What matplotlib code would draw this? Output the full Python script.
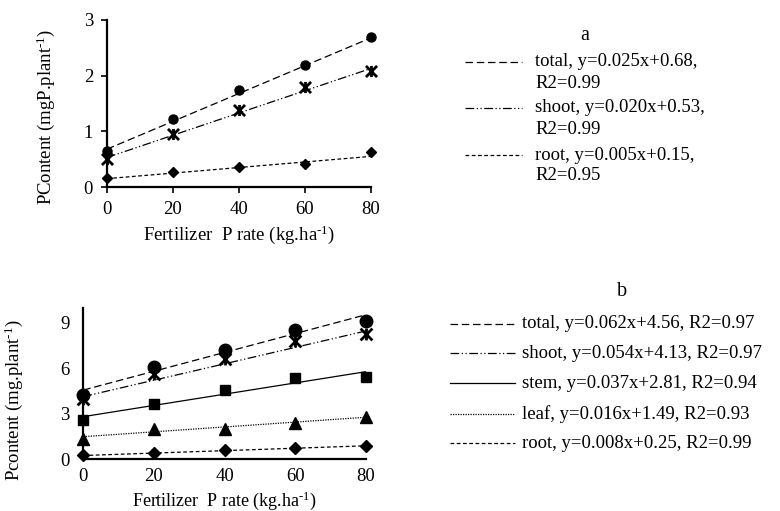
import matplotlib
matplotlib.use("Agg")
import matplotlib.pyplot as plt
import numpy as np
from matplotlib.lines import Line2D
from matplotlib.path import Path

plt.rcParams['font.family'] = ['Liberation Serif', 'DejaVu Serif']
plt.rcParams['mathtext.fontset'] = 'custom'
plt.rcParams['mathtext.rm'] = 'Liberation Serif'
plt.rcParams['mathtext.it'] = 'Liberation Serif:italic'
plt.rcParams['mathtext.bf'] = 'Liberation Serif:bold'

# ---- data: panel a ----
x_rates = [0, 20, 40, 60, 80]
a_total = [0.64, 1.22, 1.74, 2.19, 2.70]
a_shoot = [0.51, 0.95, 1.38, 1.79, 2.08]
a_root = [0.17, 0.27, 0.36, 0.42, 0.62]
a_slopes = [0.025, 0.020, 0.005]
a_intercepts = [0.68, 0.53, 0.15]
a_labels = [("total, y=0.025x+0.68,", "R2=0.99"),
            ("shoot, y=0.020x+0.53,", "R2=0.99"),
            ("root, y=0.005x+0.15,", "R2=0.95")]
a_yticks = [0, 1, 2, 3]

# ---- data: panel b ----
b_total = [4.24, 6.06, 7.20, 8.52, 9.13]
b_shoot = [4.00, 5.60, 6.59, 7.79, 8.25]
b_stem = [2.59, 3.64, 4.56, 5.38, 5.44]
b_leaf = [1.32, 1.98, 2.00, 2.41, 2.81]
b_root = [0.28, 0.44, 0.61, 0.76, 0.90]
b_slopes = [0.062, 0.054, 0.037, 0.016, 0.008]
b_intercepts = [4.56, 4.13, 2.81, 1.49, 0.25]
b_labels = ["total, y=0.062x+4.56, R2=0.97",
            "shoot, y=0.054x+4.13, R2=0.97",
            "stem, y=0.037x+2.81, R2=0.94",
            "leaf, y=0.016x+1.49, R2=0.93",
            "root, y=0.008x+0.25, R2=0.99"]
b_yticks = [0, 3, 6, 9]
x_ticks = [0, 20, 40, 60, 80]

W, H = 780, 511
fig = plt.figure(figsize=(W/100, H/100), dpi=100)

def fx(px):
    return px / W

def fy(py):
    return 1 - py / H

styles = {
    'total': dict(ls=(0, (6, 3)), lw=0.9),
    'shoot': dict(ls=(0, (7, 2, 1, 2, 1, 2)), lw=0.9),
    'stem': dict(ls='-', lw=0.9),
    'leaf': dict(ls=(0, (1, 1)), lw=0.9),
    'root': dict(ls=(0, (3, 2)), lw=0.9),
}
# asterisk marker: X plus vertical bar
star = Path([(-1, -1), (1, 1), (-1, 1), (1, -1), (0, -1), (0, 1)],
            [Path.MOVETO, Path.LINETO, Path.MOVETO, Path.LINETO, Path.MOVETO, Path.LINETO])

FS = 13.5
LFS = 13.5
xlab = "Fertilizer  P rate (kg.ha$^{\\text{-1}}$)"

# ---------- panel a ----------
axa = fig.add_axes([fx(107), fy(187), fx(371) - fx(107), fy(20) - fy(187)])
xs = np.array([0, 80])
a_series = [a_total, a_shoot, a_root]
a_keys = ['total', 'shoot', 'root']
a_markers = [dict(marker='o', ms=6.5), dict(marker=star, ms=8, mew=2.0), dict(marker='D', ms=5.5)]
for s, k, m, sl, ic in zip(a_series, a_keys, a_markers, a_slopes, a_intercepts):
    axa.plot(xs, sl * xs + ic, color='black', **styles[k])
    axa.plot(x_rates, s, ls='none', color='black', clip_on=False, **m)
axa.set_xlim(0, 80)
axa.set_ylim(0, 3)
axa.set_xticks(x_ticks)
axa.set_yticks(a_yticks)
for sp in ['top', 'right']:
    axa.spines[sp].set_visible(False)
for sp in ['left', 'bottom']:
    axa.spines[sp].set_linewidth(1.6)
axa.tick_params(direction='out', length=4, width=1.2, labelsize=FS, pad=6)
axa.set_ylabel("PContent (mgP.plant$^{\\text{-1}}$)", fontsize=FS)
axa.yaxis.set_label_coords(-0.19, 0.42)
axa.set_xlabel(xlab, fontsize=FS, labelpad=4)

# legend a
fig.text(fx(585), fy(35), "a", fontsize=LFS + 1, ha='center', va='center')
a_leg_y = [62, 108, 155]
for k, lab, yy in zip(a_keys, a_labels, a_leg_y):
    fig.add_artist(Line2D([fx(465), fx(522)], [fy(yy), fy(yy)], color='black', **styles[k]))
    fig.text(fx(535), fy(yy), lab[0], fontsize=LFS, ha='left', va='center')
    fig.text(fx(535), fy(yy + 21), lab[1], fontsize=LFS, ha='left', va='center')

# ---------- panel b ----------
axb = fig.add_axes([fx(83.3), fy(459.3), fx(365.7) - fx(83.3), fy(307.5) - fy(459.3)])
b_series = [b_total, b_shoot, b_stem, b_leaf, b_root]
b_keys = ['total', 'shoot', 'stem', 'leaf', 'root']
b_markers = [dict(marker='o', ms=9), dict(marker=star, ms=8.5, mew=2.0), dict(marker='s', ms=7.5),
             dict(marker='^', ms=8), dict(marker='D', ms=6)]
for s, k, m, sl, ic in zip(b_series, b_keys, b_markers, b_slopes, b_intercepts):
    axb.plot(xs, sl * xs + ic, color='black', **styles[k])
    axb.plot(x_rates, s, ls='none', color='black', clip_on=False, **m)
axb.set_xlim(0, 80)
axb.set_ylim(0, 10)
axb.set_xticks(x_ticks)
axb.set_yticks(b_yticks)
for sp in ['top', 'right']:
    axb.spines[sp].set_visible(False)
for sp in ['left', 'bottom']:
    axb.spines[sp].set_linewidth(1.6)
axb.tick_params(axis='y', length=0, labelsize=FS, pad=10)
axb.tick_params(axis='x', length=0, labelsize=FS, pad=6)
axb.set_ylabel("Pcontent (mg.plant$^{\\text{-1}}$)", fontsize=FS)
axb.yaxis.set_label_coords(-0.205, 0.39)
axb.set_xlabel(xlab, fontsize=13)
axb.xaxis.set_label_coords(0.5, -0.2)

fig.text(fx(622), fy(292), "b", fontsize=LFS + 1, ha='center', va='center')
b_leg_y = [324, 353, 383, 414, 443]
for k, lab, yy in zip(b_keys, b_labels, b_leg_y):
    fig.add_artist(Line2D([fx(450), fx(515)], [fy(yy), fy(yy)], color='black', **styles[k]))
    fig.text(fx(522), fy(yy), lab, fontsize=LFS, ha='left', va='center')

fig.savefig("out.png", dpi=100)
